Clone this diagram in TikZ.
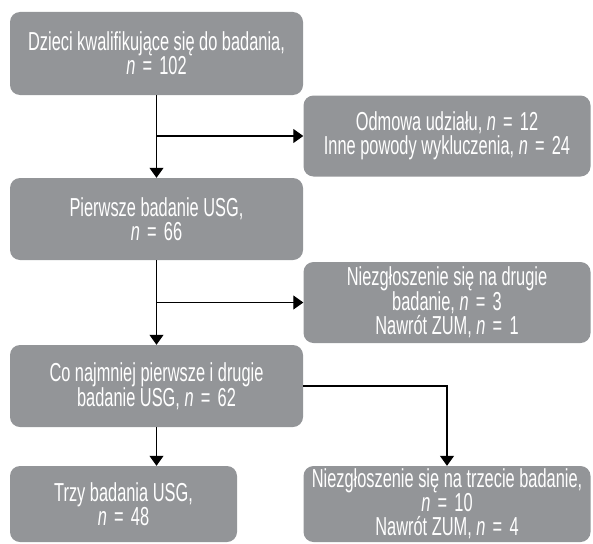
\documentclass[tikz,border=0pt]{standalone}
\usepackage{fontspec}
\setmainfont{Liberation Sans}[FakeStretch=0.63]
\usetikzlibrary{arrows.meta}
\definecolor{boxgray}{HTML}{939598}
\tikzset{
  fbox/.style={rectangle, rounded corners=10pt, fill=boxgray, text=white,
    align=center, font=\fontsize{26pt}{24pt}\selectfont, inner sep=0pt},
  conn/.style={line width=1.1pt, -{Triangle[width=14pt,length=10pt]}},
}
\newcommand{\nn}{\textit{n}\;=\;}
\begin{document}
\begin{tikzpicture}[x=1pt,y=-1pt]
\useasboundingbox (0,0) rectangle (593,543);
\node[fbox, minimum width=293pt, minimum height=83pt] (b1) at (156.5,53.5)
  {Dzieci kwalifikujące się do badania,\\ \nn 102};
\node[fbox, minimum width=287pt, minimum height=81pt] (b2) at (447,136)
  {Odmowa udziału, \nn 12\\ Inne powody wykluczenia, \nn 24};
\node[fbox, minimum width=293pt, minimum height=82pt] (b3) at (156.5,219)
  {Pierwsze badanie USG,\\ \nn 66};
\node[fbox, minimum width=287pt, minimum height=81pt] (b4) at (447,302.5)
  {Niezgłoszenie się na drugie\\ badanie, \nn 3\\ Nawrót ZUM, \nn 1};
\node[fbox, minimum width=293pt, minimum height=82pt] (b5) at (156.5,386)
  {Co najmniej pierwsze i drugie\\ badanie USG, \nn 62};
\node[fbox, minimum width=227pt, minimum height=76pt] (b6) at (123.5,504)
  {Trzy badania USG,\\ \nn 48};
\node[fbox, minimum width=287pt, minimum height=76pt] (b7) at (447,504)
  {Niezgłoszenie się na trzecie badanie,\\ \nn 10\\ Nawrót ZUM, \nn 4};
\coordinate (j1) at (b1.south |- b2.west);
\coordinate (j2) at (b3.south |- b4.west);
\draw[conn] (b1.south) -- (b3.north);
\draw[conn] (j1) -- (b2.west);
\draw[conn] (b3.south) -- (b5.north);
\draw[conn] (j2) -- (b4.west);
\draw[conn] (b5.south) -- (b5.south |- b6.north);
\draw[conn] (b5.east) -| (b7.north);
\end{tikzpicture}
\end{document}
